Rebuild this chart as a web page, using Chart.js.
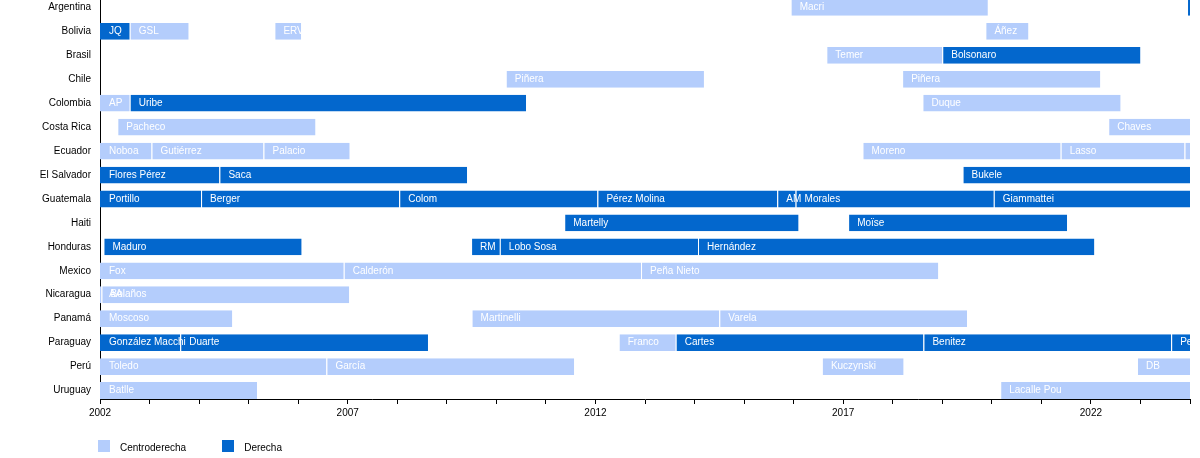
<!DOCTYPE html>
<html>
<head>
<meta charset="utf-8">
<script src="https://cdn.jsdelivr.net/npm/chart.js@4.4.1/dist/chart.umd.min.js"></script>
<style>
  html, body { margin: 0; padding: 0; background: #fff; }
  #wrap { position: relative; width: 1200px; height: 458px; overflow: hidden; background: #fff; }
  #c { position: absolute; left: 0; top: 0; }
  #legend { position: absolute; left: 98px; top: 440px; display: flex; align-items: flex-start;
            font: 10px "Liberation Sans", Arial, Helvetica, sans-serif; color: #000; }
  .item { display: flex; align-items: flex-start; margin-right: 36px; }
  .box { width: 12px; height: 12px; margin-right: 10px; }
  .txt { line-height: 12px; position: relative; top: 2px; }
</style>
</head>
<body>
<div id="wrap">
  <canvas id="c" width="1200" height="458"></canvas>
  <div id="legend"></div>
</div>
<script>
// ---- Data ----
const countries = ['Argentina', 'Bolivia', 'Brasil', 'Chile', 'Colombia', 'Costa Rica', 'Ecuador',
  'El Salvador', 'Guatemala', 'Haiti', 'Honduras', 'Mexico', 'Nicaragua', 'Panamá', 'Paraguay', 'Perú', 'Uruguay'];

const seriesNames = ['Centroderecha', 'Derecha'];

const yearTickLabels = [2002, 2007, 2012, 2017, 2022];

// [country, start (decimal year), end (decimal year), label]
const centroderecha = [
  ['Argentina', 2015.94, 2019.92, 'Macri'],
  ['Bolivia', 2002.60, 2003.79, 'GSL'],
  ['Bolivia', 2005.52, 2006.06, 'ERV'],
  ['Bolivia', 2019.87, 2020.74, 'Áñez'],
  ['Brasil', 2016.66, 2019.00, 'Temer'],
  ['Chile', 2010.19, 2014.19, 'Piñera'],
  ['Chile', 2018.19, 2022.19, 'Piñera'],
  ['Colombia', 1998.60, 2002.60, 'AP'],
  ['Colombia', 2018.60, 2022.60, 'Duque'],
  ['Costa Rica', 2002.35, 2006.35, 'Pacheco'],
  ['Costa Rica', 2022.35, 2026.35, 'Chaves'],
  ['Ecuador', 2000.06, 2003.04, 'Noboa'],
  ['Ecuador', 2003.04, 2005.30, 'Gutiérrez'],
  ['Ecuador', 2005.30, 2007.04, 'Palacio'],
  ['Ecuador', 2017.39, 2021.39, 'Moreno'],
  ['Ecuador', 2021.39, 2023.89, 'Lasso'],
  ['Ecuador', 2023.89, 2025.39, 'Noboa'],
  ['Mexico', 2000.92, 2006.92, 'Fox'],
  ['Mexico', 2006.92, 2012.92, 'Calderón'],
  ['Mexico', 2012.92, 2018.92, 'Peña Nieto'],
  ['Nicaragua', 1997.03, 2002.03, 'AA'],
  ['Nicaragua', 2002.03, 2007.03, 'Bolaños'],
  ['Panamá', 1999.67, 2004.67, 'Moscoso'],
  ['Panamá', 2009.50, 2014.50, 'Martinelli'],
  ['Panamá', 2014.50, 2019.50, 'Varela'],
  ['Paraguay', 2012.47, 2013.62, 'Franco'],
  ['Perú', 2001.57, 2006.57, 'Toledo'],
  ['Perú', 2006.57, 2011.57, 'García'],
  ['Perú', 2016.57, 2018.22, 'Kuczynski'],
  ['Perú', 2022.93, 2026.00, 'DB'],
  ['Uruguay', 2000.17, 2005.17, 'Batlle'],
  ['Uruguay', 2020.17, 2025.17, 'Lacalle Pou']
];

const derecha = [
  ['Argentina', 2023.94, 2027.94, 'Milei'],
  ['Bolivia', 2001.60, 2002.60, 'JQ'],
  ['Brasil', 2019.00, 2023.00, 'Bolsonaro'],
  ['Colombia', 2002.60, 2010.60, 'Uribe'],
  ['El Salvador', 1999.41, 2004.41, 'Flores Pérez'],
  ['El Salvador', 2004.41, 2009.41, 'Saca'],
  ['El Salvador', 2019.41, 2024.41, 'Bukele'],
  ['Guatemala', 2000.04, 2004.04, 'Portillo'],
  ['Guatemala', 2004.04, 2008.04, 'Berger'],
  ['Guatemala', 2008.04, 2012.04, 'Colom'],
  ['Guatemala', 2012.04, 2015.67, 'Pérez Molina'],
  ['Guatemala', 2015.67, 2016.04, 'AM'],
  ['Guatemala', 2016.04, 2020.04, 'Morales'],
  ['Guatemala', 2020.04, 2024.04, 'Giammattei'],
  ['Haiti', 2011.37, 2016.10, 'Martelly'],
  ['Haiti', 2017.10, 2021.52, 'Moïse'],
  ['Honduras', 2002.07, 2006.07, 'Maduro'],
  ['Honduras', 2009.49, 2010.07, 'RM'],
  ['Honduras', 2010.07, 2014.07, 'Lobo Sosa'],
  ['Honduras', 2014.07, 2022.07, 'Hernández'],
  ['Paraguay', 1999.24, 2003.62, 'González Macchi'],
  ['Paraguay', 2003.62, 2008.62, 'Duarte'],
  ['Paraguay', 2013.62, 2018.62, 'Cartes'],
  ['Paraguay', 2018.62, 2023.62, 'Benitez'],
  ['Paraguay', 2023.62, 2028.62, 'Peña']
];

// ---- Styles ----
const COLOR_LIGHT = '#b4cdfc';
const COLOR_DARK = '#0367cd';
const FONT = '"Liberation Sans", Arial, Helvetica, sans-serif';

function toPoints(rows) {
  return rows.map(r => ({ y: countries.indexOf(r[0]), x: [r[1], r[2]], label: r[3] }));
}

const barLabels = {
  id: 'barLabels',
  afterDatasetsDraw(chart) {
    const ctx = chart.ctx, area = chart.chartArea;
    ctx.save();
    ctx.beginPath();
    ctx.rect(area.left, area.top, area.right - area.left, area.bottom - area.top);
    ctx.clip();
    ctx.fillStyle = '#ffffff';
    ctx.font = '10px ' + FONT;
    ctx.textBaseline = 'middle';
    ctx.textAlign = 'left';
    chart.data.datasets.forEach((ds, di) => {
      const meta = chart.getDatasetMeta(di);
      meta.data.forEach((el, i) => {
        const p = el.getProps(['x', 'base', 'y'], true);
        const start = Math.max(Math.min(p.x, p.base), area.left);
        ctx.fillText(ds.data[i].label, start + 9, p.y);
      });
    });
    ctx.restore();
  }
};

const datasetBase = {
  grouped: false,
  barPercentage: 0.7,
  categoryPercentage: 1.0,
  borderColor: '#ffffff',
  borderWidth: { left: 1, right: 0, top: 0, bottom: 0 },
  borderSkipped: false
};

const chart = new Chart(document.getElementById('c'), {
  type: 'bar',
  data: {
    datasets: [
      Object.assign({ label: seriesNames[0], data: toPoints(centroderecha), backgroundColor: COLOR_LIGHT }, datasetBase),
      Object.assign({ label: seriesNames[1], data: toPoints(derecha), backgroundColor: COLOR_DARK }, datasetBase)
    ]
  },
  options: {
    indexAxis: 'y',
    responsive: false,
    animation: false,
    layout: { padding: { left: 0, right: 10, top: 0, bottom: 0 } },
    plugins: { legend: { display: false }, tooltip: { enabled: false } },
    scales: {
      x: {
        type: 'linear',
        min: 2002,
        max: 2024,
        z: 1,
        ticks: {
          stepSize: 1,
          autoSkip: false,
          maxRotation: 0,
          padding: 3,
          color: '#000',
          font: { size: 10, family: FONT },
          callback: v => yearTickLabels.includes(v) ? String(v) : ''
        },
        grid: { display: true, drawOnChartArea: false, drawTicks: true, tickLength: 5, color: '#000', lineWidth: 1 },
        border: { display: true, color: '#000', width: 1 },
        afterFit: s => { s.height = 59; s.paddingLeft = 0; s.paddingRight = 0; }
      },
      y: {
        type: 'linear',
        reverse: true,
        offset: false,
        min: -0.313,
        max: 16.355,
        z: 1,
        afterBuildTicks: s => { s.ticks = countries.map((_, i) => ({ value: i })); },
        ticks: {
          autoSkip: false,
          padding: 9,
          color: '#000',
          font: { size: 10, family: FONT },
          callback: v => countries[v]
        },
        grid: { display: false, drawTicks: false, offset: false },
        border: { display: true, color: '#000', width: 1 },
        afterFit: s => { s.width = 100; s.paddingTop = 0; s.paddingBottom = 0; }
      }
    }
  },
  plugins: [barLabels]
});

// HTML legend from series
const legend = document.getElementById('legend');
chart.data.datasets.forEach(ds => {
  const item = document.createElement('div');
  item.className = 'item';
  const box = document.createElement('div');
  box.className = 'box';
  box.style.background = ds.backgroundColor;
  const txt = document.createElement('span');
  txt.className = 'txt';
  txt.textContent = ds.label;
  item.appendChild(box);
  item.appendChild(txt);
  legend.appendChild(item);
});
</script>
</body>
</html>
